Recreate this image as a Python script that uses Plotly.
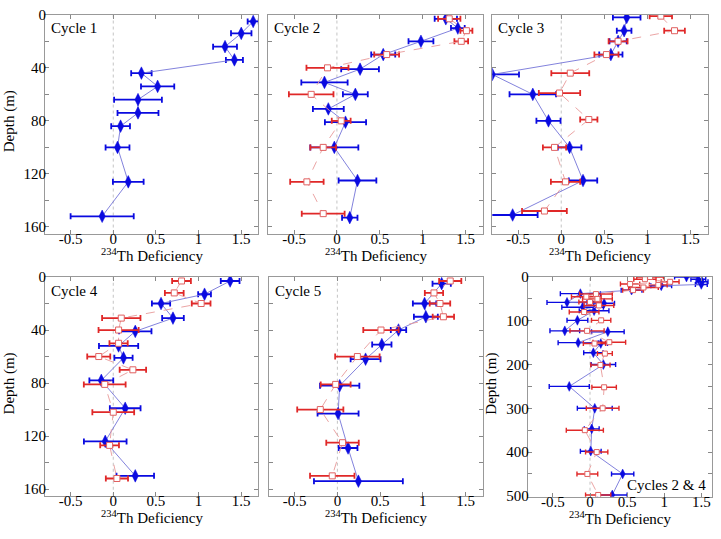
import plotly.graph_objects as go

W, H = 721, 539

# ---------------- data (depth m, 234Th deficiency, error) ----------------
c1_blue_depth = [5, 14, 24, 34, 44, 54, 64, 74, 84, 100, 126, 152]
c1_blue_val = [1.64, 1.50, 1.31, 1.42, 0.33, 0.52, 0.29, 0.29, 0.086, 0.05, 0.176, -0.13]
c1_blue_err = [0.065, 0.12, 0.14, 0.10, 0.12, 0.195, 0.28, 0.24, 0.11, 0.14, 0.18, 0.37]

c2_blue_depth = [3, 10, 20, 30, 41, 51, 60, 71, 81, 100, 125, 153]
c2_blue_val = [1.27, 1.41, 0.98, 0.54, 0.27, -0.145, 0.215, -0.10, 0.10, -0.03, 0.24, 0.15]
c2_blue_err = [0.13, 0.08, 0.145, 0.14, 0.22, 0.27, 0.145, 0.18, 0.24, 0.28, 0.22, 0.09]
c2_red_depth = [3, 12, 20, 30, 40, 60, 80, 100, 126, 150]
c2_red_val = [1.31, 1.51, 1.45, 0.58, -0.11, -0.30, 0.05, -0.16, -0.35, -0.16]
c2_red_err = [0.13, 0.07, 0.08, 0.145, 0.245, 0.26, 0.11, 0.15, 0.195, 0.25]

c3_blue_depth = [2, 12, 20, 30, 45, 60, 80, 100, 125, 151]
c3_blue_val = [0.76, 0.73, 0.66, 0.576, -0.80, -0.33, -0.148, 0.097, 0.253, -0.564]
c3_blue_err = [0.16, 0.085, 0.10, 0.135, 0.31, 0.27, 0.14, 0.137, 0.165, 0.29]
c3_red_depth = [1, 12, 20, 30, 44, 59, 79, 100, 126, 148]
c3_red_val = [1.156, 1.315, 0.66, 0.525, 0.105, -0.02, 0.32, -0.078, 0.05, -0.195]
c3_red_err = [0.13, 0.12, 0.11, 0.14, 0.22, 0.24, 0.10, 0.135, 0.17, 0.26]

c4_blue_depth = [3, 13, 20, 31, 41, 52, 61, 78, 99, 124, 150]
c4_blue_val = [1.37, 1.07, 0.56, 0.70, 0.258, 0.0625, 0.12, -0.14, 0.14, -0.094, 0.258]
c4_blue_err = [0.11, 0.075, 0.107, 0.127, 0.19, 0.23, 0.107, 0.14, 0.18, 0.25, 0.22]
c4_red_depth = [3, 12, 20, 31, 40, 50, 60, 70, 81, 102, 127, 152]
c4_red_val = [0.80, 0.715, 1.03, 0.094, 0.0625, 0.0625, -0.17, 0.23, -0.10, 0.0, -0.043, 0.043]
c4_red_err = [0.11, 0.11, 0.11, 0.225, 0.235, 0.107, 0.135, 0.155, 0.245, 0.245, 0.11, 0.13]

c5_blue_depth = [5, 20, 30, 40, 51, 62, 82, 103, 129, 154]
c5_blue_val = [1.22, 1.02, 1.035, 0.715, 0.52, 0.33, 0.027, 0.008, 0.125, 0.246]
c5_blue_err = [0.107, 0.137, 0.14, 0.09, 0.113, 0.175, 0.23, 0.24, 0.11, 0.52]
c5_red_depth = [3, 12, 20, 30, 40, 60, 81, 100, 125, 150]
c5_red_val = [1.32, 1.13, 1.20, 1.24, 0.51, 0.234, -0.02, -0.20, 0.06, -0.06]
c5_red_err = [0.13, 0.107, 0.12, 0.125, 0.207, 0.26, 0.175, 0.27, 0.19, 0.26]

c24_blue_depth = [0, 5, 11, 17, 20, 30, 38, 58, 60, 69, 77, 99, 123, 125, 150, 152,
                  173, 200, 250, 300, 347, 398, 450, 498]
c24_blue_val = [1.30, 1.46, 1.51, 1.50, 0.96, 0.56, -0.13, -0.31, 0.19, -0.10, 0.055, -0.17,
                -0.34, 0.24, -0.16, 0.145, 0.045, 0.18, -0.28, 0.064, 0.023, 0.01, 0.44, 0.30]
c24_blue_err = [0.16, 0.10, 0.08, 0.08, 0.14, 0.14, 0.27, 0.27, 0.14, 0.28, 0.20, 0.14,
                0.20, 0.22, 0.27, 0.09, 0.13, 0.165, 0.27, 0.235, 0.10, 0.14, 0.15, 0.20]
c24_red_depth = [0, 5, 11, 16, 18, 24, 30, 39, 45, 50, 57, 65, 80, 99, 123, 149, 152,
                 175, 201, 252, 300, 350, 400, 450, 498]
c24_red_val = [0.81, 0.74, 1.08, 0.54, 0.92, 0.72, 0.58, 0.08, -0.05, 0.10, 0.0, 0.12, -0.08,
               0.15, -0.04, 0.26, 0.06, 0.20, 0.14, 0.19, 0.17, -0.07, 0.09, -0.036, 0.11]
c24_red_err = [0.18, 0.15, 0.12, 0.13, 0.12, 0.20, 0.14, 0.22, 0.20, 0.20, 0.15, 0.20, 0.20,
               0.13, 0.23, 0.22, 0.15, 0.10, 0.13, 0.165, 0.22, 0.25, 0.15, 0.14, 0.17]

x_tickvals = [-0.5, 0, 0.5, 1, 1.5]
x_ticktext = ['-0.5', '0', '0.5', '1', '1.5']
y_tickvals = [0, 40, 80, 120, 160]
y_minor_step = 20
y6_tickvals = [0, 100, 200, 300, 400, 500]
y6_minor_step = 50

# ---------------- styling ----------------
FONT = "Liberation Serif, Times New Roman, serif"
BLUE = "#0a0ae0"
BLUE_LINE = "#7474d8"
RED = "#e02828"
RED_LINE = "#e89a9a"

panels = [
    dict(label="Cycle 1", box=(45, 7, 258.3, 232), xr=[-0.8, 1.7], yr=[165, 0], ylab=True,
         blue=(c1_blue_depth, c1_blue_val, c1_blue_err), red=None, big=True),
    dict(label="Cycle 2", box=(268.3, 7, 482.7, 232), xr=[-0.8, 1.7], yr=[165, 0], ylab=False,
         blue=(c2_blue_depth, c2_blue_val, c2_blue_err), red=(c2_red_depth, c2_red_val, c2_red_err), big=True),
    dict(label="Cycle 3", box=(492.3, 7, 707.7, 232), xr=[-0.8, 1.7], yr=[165, 0], ylab=False,
         blue=(c3_blue_depth, c3_blue_val, c3_blue_err), red=(c3_red_depth, c3_red_val, c3_red_err), big=True),
    dict(label="Cycle 4", box=(45, 276.7, 258.3, 501.7), xr=[-0.8, 1.7], yr=[165, 0], ylab=True,
         blue=(c4_blue_depth, c4_blue_val, c4_blue_err), red=(c4_red_depth, c4_red_val, c4_red_err), big=True),
    dict(label="Cycle 5", box=(269, 276.7, 482.7, 501.7), xr=[-0.8, 1.7], yr=[165, 0], ylab=False,
         blue=(c5_blue_depth, c5_blue_val, c5_blue_err), red=(c5_red_depth, c5_red_val, c5_red_err), big=True),
    dict(label="Cycles 2 & 4", box=(527.7, 276.7, 711.7, 502.7), xr=[-0.84, 1.64], yr=[502, 0], ylab=True,
         blue=(c24_blue_depth, c24_blue_val, c24_blue_err), red=(c24_red_depth, c24_red_val, c24_red_err), big=False),
]

fig = go.Figure()
layout = dict(width=W, height=H, margin=dict(l=0, r=0, t=0, b=0),
              paper_bgcolor="white", plot_bgcolor="white", showlegend=False,
              font=dict(family=FONT, size=15, color="black"))
shapes = []
annotations = []

for i, p in enumerate(panels):
    n = "" if i == 0 else str(i + 1)
    xa, ya = "x" + n, "y" + n
    x0, y0, x1, y1 = p["box"]
    six = p["label"] == "Cycles 2 & 4"
    layout["xaxis" + n] = dict(
        domain=[x0 / W, x1 / W], range=p["xr"], anchor=ya,
        tickvals=x_tickvals, ticktext=x_ticktext, ticks="inside", ticklen=4,
        tickcolor="#888", showline=True, linecolor="#999", linewidth=1, mirror="allticks",
        showgrid=False, zeroline=False, ticklabelstandoff=-9,
        tickfont=dict(size=15, family=FONT, color="black"))
    layout["yaxis" + n] = dict(
        domain=[1 - y1 / H, 1 - y0 / H], range=p["yr"], anchor=xa,
        tickmode="array", tickvals=y6_tickvals if six else y_tickvals,
        minor=dict(tick0=0, dtick=y6_minor_step if six else y_minor_step, ticks="inside",
                   ticklen=4, tickcolor="#888", showgrid=False),
        showticklabels=p["ylab"], ticks="inside", ticklen=4, ticklabelstandoff=-5,
        tickcolor="#888", showline=True, linecolor="#999", linewidth=1, mirror="allticks",
        showgrid=False, zeroline=False, tickfont=dict(size=15, family=FONT, color="black"))

    # dotted zero reference line
    shapes.append(dict(type="line", xref=xa, yref=ya + " domain", x0=0, x1=0, y0=0, y1=1,
                       line=dict(color="#c4c4c4", width=1, dash="dot"), layer="below"))

    msz_d = 9 if p["big"] else 7
    msz_s = 6 if p["big"] else 5
    eth = 1.8 if p["big"] else 1.4
    ew = 3 if p["big"] else 2.5

    bd, bv, be = p["blue"]
    fig.add_trace(go.Scatter(
        x=bv, y=bd, xaxis=xa, yaxis=ya, mode="lines+markers",
        line=dict(color=BLUE_LINE, width=0.9),
        marker=dict(symbol="diamond-tall", size=msz_d, color=BLUE, line=dict(color=BLUE, width=0.5)),
        error_x=dict(type="data", array=be, symmetric=True, color=BLUE, thickness=eth, width=ew),
        cliponaxis=True))
    if p["red"] is not None:
        rd, rv, re_ = p["red"]
        fig.add_trace(go.Scatter(
            x=rv, y=rd, xaxis=xa, yaxis=ya, mode="lines+markers",
            line=dict(color=RED_LINE, width=0.9, dash="dash"),
            marker=dict(symbol="square", size=msz_s, color="white", line=dict(color="#e06060", width=1)),
            error_x=dict(type="data", array=re_, symmetric=True, color=RED, thickness=eth, width=ew),
            cliponaxis=True))

    # x-axis title
    annotations.append(dict(text="<sup>234</sup>Th Deficiency", xref="paper", yref="paper",
                            x=(x0 + x1) / 2 / W, y=1 - (y1 + 11) / H, xanchor="center", yanchor="top",
                            showarrow=False, font=dict(size=15, family=FONT)))
    # panel label
    if six:
        annotations.append(dict(text=p["label"], xref="paper", yref="paper",
                                x=(x1 - 4) / W, y=1 - (y1 - 12) / H, xanchor="right", yanchor="middle",
                                showarrow=False, font=dict(size=15, family=FONT)))
    else:
        annotations.append(dict(text=p["label"], xref="paper", yref="paper",
                                x=(x0 + 4) / W, y=1 - (y0 + 14) / H, xanchor="left", yanchor="middle",
                                showarrow=False, font=dict(size=15, family=FONT)))
    if p["ylab"]:
        annotations.append(dict(text="Depth (m)", xref="paper", yref="paper",
                                x=(x0 - 36) / W, y=1 - ((y0 + y1) / 2 - 3) / H, xanchor="center",
                                yanchor="middle", textangle=-90, showarrow=False,
                                font=dict(size=15, family=FONT)))

layout["shapes"] = shapes
layout["annotations"] = annotations
fig.update_layout(**layout)
fig.write_html("out.html", config={"displayModeBar": False},
               post_script="document.body.style.margin='0px';")
